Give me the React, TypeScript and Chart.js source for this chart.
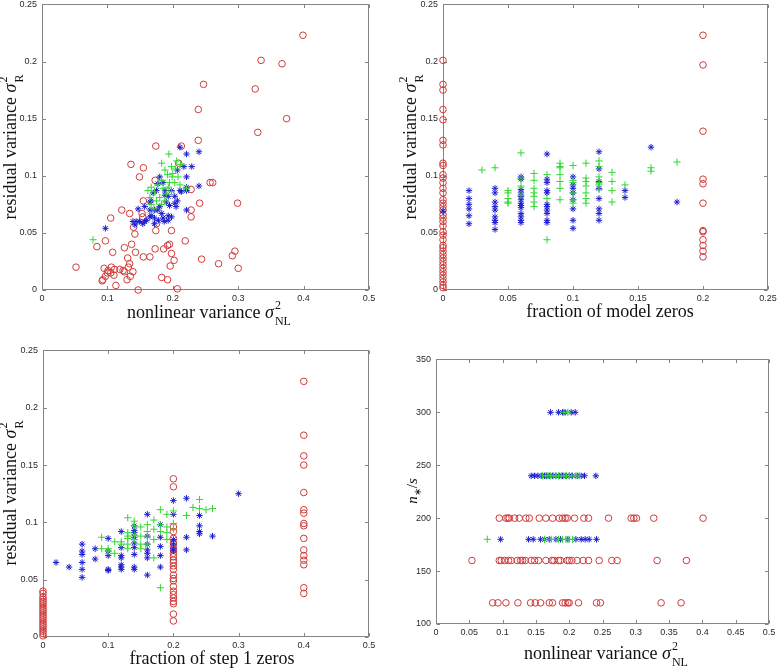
import React, { useEffect, useRef } from "react";
import { Chart, registerables } from "chart.js";
Chart.register(...registerables);

type Pt = [number, number];
type Col = [number, number[]];

// ---------- Panel 1: residual variance vs nonlinear variance ----------
const p1Red: Pt[] = [
  [0.399, 0.223], [0.335, 0.201], [0.367, 0.198], [0.247, 0.18], [0.326, 0.176], [0.239, 0.158],
  [0.374, 0.15], [0.33, 0.138], [0.239, 0.131], [0.174, 0.126], [0.213, 0.126], [0.136, 0.11],
  [0.155, 0.107], [0.149, 0.099], [0.209, 0.111], [0.173, 0.096], [0.257, 0.094], [0.261, 0.094],
  [0.228, 0.088], [0.299, 0.076], [0.241, 0.076], [0.155, 0.078], [0.122, 0.07], [0.134, 0.067],
  [0.153, 0.067], [0.228, 0.07], [0.228, 0.064], [0.105, 0.063], [0.154, 0.064], [0.14, 0.055],
  [0.142, 0.049], [0.174, 0.052], [0.175, 0.058], [0.198, 0.052], [0.097, 0.043], [0.219, 0.043],
  [0.084, 0.038], [0.108, 0.033], [0.126, 0.037], [0.137, 0.04], [0.143, 0.033], [0.173, 0.036],
  [0.186, 0.036], [0.192, 0.039], [0.195, 0.04], [0.198, 0.032], [0.202, 0.026], [0.155, 0.029],
  [0.165, 0.029], [0.131, 0.028], [0.134, 0.023], [0.132, 0.02], [0.244, 0.027], [0.27, 0.023],
  [0.291, 0.03], [0.295, 0.034], [0.3, 0.019], [0.196, 0.021], [0.052, 0.02], [0.095, 0.019],
  [0.106, 0.02], [0.111, 0.018], [0.119, 0.018], [0.124, 0.017], [0.126, 0.016], [0.1, 0.015],
  [0.105, 0.015], [0.097, 0.012], [0.11, 0.013], [0.093, 0.009], [0.139, 0.016], [0.135, 0.012],
  [0.13, 0.009], [0.113, 0.004], [0.183, 0.011], [0.192, 0.009], [0.207, 0.001], [0.147, 0.0],
  [0.101, 0.017], [0.092, 0.008],
];
const p1Blue: Pt[] = [
  [0.097, 0.054], [0.211, 0.125], [0.221, 0.119], [0.24, 0.121], [0.229, 0.108], [0.217, 0.108],
  [0.24, 0.091], [0.221, 0.099], [0.221, 0.09], [0.207, 0.105], [0.18, 0.099], [0.185, 0.094],
  [0.175, 0.087], [0.188, 0.087], [0.198, 0.087], [0.211, 0.087], [0.213, 0.086], [0.221, 0.087],
  [0.167, 0.078], [0.165, 0.077], [0.157, 0.073], [0.147, 0.071], [0.165, 0.07], [0.172, 0.07],
  [0.177, 0.07], [0.19, 0.077], [0.195, 0.074], [0.203, 0.076], [0.205, 0.073], [0.207, 0.078],
  [0.221, 0.07], [0.183, 0.067], [0.193, 0.065], [0.198, 0.064], [0.165, 0.064], [0.167, 0.065],
  [0.139, 0.06], [0.144, 0.06], [0.149, 0.06], [0.157, 0.06], [0.16, 0.061], [0.172, 0.063],
  [0.172, 0.058], [0.178, 0.061], [0.185, 0.063], [0.142, 0.057], [0.154, 0.058], [0.193, 0.061],
  [0.187, 0.06], [0.18, 0.073], [0.188, 0.083], [0.17, 0.085], [0.177, 0.093], [0.193, 0.082],
  [0.203, 0.082],
];
const p1Green: Pt[] = [
  [0.078, 0.044], [0.194, 0.119], [0.183, 0.111], [0.206, 0.113], [0.212, 0.11], [0.198, 0.108],
  [0.188, 0.105], [0.204, 0.106], [0.192, 0.101], [0.199, 0.099], [0.208, 0.099], [0.183, 0.096],
  [0.195, 0.094], [0.203, 0.094], [0.177, 0.092], [0.167, 0.09], [0.162, 0.087], [0.172, 0.086],
  [0.185, 0.089], [0.19, 0.084], [0.18, 0.081], [0.198, 0.086], [0.175, 0.078], [0.167, 0.075],
  [0.183, 0.075], [0.171, 0.071], [0.188, 0.078], [0.211, 0.092], [0.221, 0.089], [0.165, 0.081],
  [0.193, 0.09], [0.2, 0.102],
];

// ---------- Panel 2: residual variance vs fraction of model zeros ----------
const p2RedCols: Col[] = [
  [0, [0.201, 0.18, 0.175, 0.158, 0.149, 0.131, 0.127, 0.111, 0.109, 0.101, 0.098, 0.094, 0.089, 0.085,
    0.079, 0.076, 0.073, 0.07, 0.066, 0.063, 0.06, 0.056, 0.051, 0.048, 0.044, 0.039, 0.037, 0.034, 0.031,
    0.028, 0.025, 0.022, 0.019, 0.016, 0.013, 0.01, 0.007, 0.004, 0.002]],
  [0.2, [0.223, 0.197, 0.139, 0.097, 0.093, 0.076, 0.052, 0.051, 0.044, 0.039, 0.034, 0.029]],
];
const p2BlueCols: Col[] = [
  [0, [0.069]],
  [0.02, [0.087, 0.08, 0.075, 0.071, 0.065, 0.058]],
  [0.04, [0.089, 0.085, 0.077, 0.073, 0.07, 0.064, 0.061, 0.059, 0.053]],
  [0.06, [0.099, 0.097, 0.088, 0.085, 0.082, 0.079, 0.076, 0.074, 0.072, 0.067, 0.064, 0.061, 0.059]],
  [0.08, [0.119, 0.097, 0.094, 0.087, 0.085, 0.075, 0.073, 0.07, 0.067, 0.061, 0.059]],
  [0.1, [0.099, 0.092, 0.089, 0.085, 0.079, 0.071, 0.061, 0.054]],
  [0.12, [0.121, 0.106, 0.095, 0.089, 0.08, 0.071, 0.067, 0.061]],
  [0.14, [0.087, 0.081]],
  [0.16, [0.125]],
  [0.18, [0.077]],
];
const p2GreenCols: Col[] = [
  [0.03, [0.105]],
  [0.04, [0.107]],
  [0.05, [0.087, 0.085, 0.08, 0.077, 0.076]],
  [0.06, [0.12, 0.098, 0.091, 0.083]],
  [0.07, [0.102, 0.096, 0.089, 0.085, 0.082, 0.077, 0.073]],
  [0.08, [0.101, 0.08, 0.044]],
  [0.09, [0.111, 0.108, 0.107, 0.101, 0.095, 0.089, 0.079]],
  [0.1, [0.109, 0.096, 0.094, 0.085, 0.079, 0.076]],
  [0.11, [0.111, 0.098, 0.095, 0.091, 0.085, 0.08, 0.076]],
  [0.12, [0.113, 0.108, 0.099, 0.094, 0.092, 0.088]],
  [0.13, [0.103, 0.095, 0.087, 0.077]],
  [0.14, [0.092]],
  [0.16, [0.107, 0.104]],
  [0.18, [0.112]],
];

// ---------- Panel 3: residual variance vs fraction of step 1 zeros ----------
const p3RedCols: Col[] = [
  [0, [0.04, 0.038, 0.035, 0.033, 0.031, 0.029, 0.027, 0.025, 0.023, 0.021, 0.019, 0.017, 0.015, 0.013,
    0.011, 0.009, 0.007, 0.005, 0.003, 0.001]],
  [0.2, [0.138, 0.131, 0.096, 0.092, 0.086, 0.082, 0.079, 0.076, 0.073, 0.07, 0.067, 0.065, 0.062, 0.059,
    0.054, 0.051, 0.049, 0.044, 0.04, 0.037, 0.034, 0.031, 0.029, 0.02, 0.014]],
  [0.4, [0.223, 0.176, 0.158, 0.15, 0.126, 0.111, 0.108, 0.099, 0.097, 0.086, 0.076, 0.071, 0.067, 0.063,
    0.043, 0.038]],
];
const p3BlueCols: Col[] = [
  [0.02, [0.065]],
  [0.04, [0.061]],
  [0.06, [0.081, 0.075, 0.072, 0.065, 0.059, 0.052]],
  [0.08, [0.077, 0.068]],
  [0.1, [0.086, 0.075, 0.071, 0.059, 0.058]],
  [0.12, [0.092, 0.078, 0.071, 0.069, 0.063, 0.061, 0.059]],
  [0.14, [0.097, 0.093, 0.091, 0.087, 0.082, 0.078, 0.072, 0.061, 0.059]],
  [0.16, [0.107, 0.088, 0.081, 0.076, 0.073, 0.069, 0.054]],
  [0.18, [0.098, 0.087, 0.079, 0.071, 0.061]],
  [0.2, [0.119, 0.107, 0.085, 0.081, 0.077, 0.075]],
  [0.22, [0.121, 0.087, 0.076]],
  [0.24, [0.106, 0.097, 0.092, 0.09]],
  [0.26, [0.088]],
  [0.3, [0.125]],
];
const p3GreenCols: Col[] = [
  [0.09, [0.087, 0.077]],
  [0.1, [0.077, 0.075]],
  [0.11, [0.083, 0.073]],
  [0.12, [0.083, 0.081]],
  [0.13, [0.104, 0.091, 0.088, 0.086, 0.081, 0.077]],
  [0.14, [0.101, 0.097, 0.089, 0.085]],
  [0.15, [0.096, 0.088, 0.081, 0.077]],
  [0.16, [0.098, 0.092, 0.087, 0.081]],
  [0.17, [0.102, 0.094, 0.085, 0.069]],
  [0.18, [0.111, 0.098, 0.092, 0.043]],
  [0.19, [0.107, 0.096, 0.091, 0.085]],
  [0.2, [0.11, 0.099, 0.094]],
  [0.22, [0.106]],
  [0.23, [0.113]],
  [0.24, [0.12, 0.112]],
  [0.25, [0.111]],
  [0.26, [0.112]],
];

// ---------- Panel 4: n*/s vs nonlinear variance (rows: [n, x values]) ----------
const p4RedRows: Col[] = [
  [200, [0.095, 0.105, 0.108, 0.11, 0.118, 0.125, 0.135, 0.14, 0.155, 0.165, 0.175, 0.185, 0.19, 0.194,
    0.197, 0.208, 0.222, 0.229, 0.259, 0.293, 0.297, 0.301, 0.327, 0.401]],
  [160, [0.054, 0.095, 0.098, 0.103, 0.109, 0.113, 0.122, 0.127, 0.13, 0.134, 0.143, 0.148, 0.154, 0.165,
    0.174, 0.177, 0.184, 0.187, 0.197, 0.2, 0.204, 0.212, 0.221, 0.229, 0.245, 0.264, 0.272, 0.332, 0.376]],
  [120, [0.085, 0.093, 0.105, 0.123, 0.142, 0.149, 0.157, 0.17, 0.175, 0.19, 0.194, 0.198, 0.2, 0.214,
    0.241, 0.247, 0.338, 0.368]],
];
const p4BlueRows: Col[] = [
  [300, [0.172, 0.184, 0.19, 0.194, 0.203, 0.209]],
  [240, [0.143, 0.148, 0.153, 0.158, 0.163, 0.166, 0.17, 0.175, 0.18, 0.185, 0.19, 0.195, 0.2, 0.205,
    0.212, 0.218, 0.223, 0.24]],
  [180, [0.097, 0.139, 0.146, 0.157, 0.163, 0.17, 0.18, 0.187, 0.198, 0.21, 0.218, 0.224, 0.23, 0.241]],
];
const p4GreenRows: Col[] = [
  [300, [0.192, 0.198]],
  [240, [0.16, 0.165, 0.168, 0.172, 0.176, 0.18, 0.184, 0.188, 0.192, 0.196, 0.2, 0.204, 0.21, 0.215]],
  [180, [0.077, 0.163, 0.173, 0.184, 0.19, 0.195, 0.2, 0.205]],
];

// ---------- Tick labels ----------
const ticksResidual = [0, 0.05, 0.1, 0.15, 0.2, 0.25];
const ticksNonlinear = [0, 0.1, 0.2, 0.3, 0.4, 0.5];
const ticksModelZeros = [0, 0.05, 0.1, 0.15, 0.2, 0.25];
const ticksStepZeros = [0, 0.1, 0.2, 0.3, 0.4, 0.5];
const ticksNonlinearFine = [0, 0.05, 0.1, 0.15, 0.2, 0.25, 0.3, 0.35, 0.4, 0.45, 0.5];
const ticksN = [100, 150, 200, 250, 300, 350];

// ---------- Styling ----------
const RED = "#cf3a3a";
const BLUE = "#1c1cd0";
const GREEN = "#2fd82f";
const AXIS = "#858585";
const TICK_LEN = 3.5;
const PAD_L = 45, PAD_T = 10, PAD_R = 16, PAD_B = 25;

const fromPts = (p: Pt[]) => p.map(([x, y]) => ({ x, y }));
const fromCols = (c: Col[]) => c.flatMap(([x, ys]) => ys.map((y) => ({ x, y })));
const fromRows = (r: Col[]) => r.flatMap(([y, xs]) => xs.map((x) => ({ x, y })));

function sets(red: any[], blue: any[], green: any[]) {
  return [
    { label: "green", data: green, pointStyle: "cross", pointRadius: 3.6, borderColor: GREEN, backgroundColor: GREEN, pointBorderWidth: 1, showLine: false, clip: false },
    { label: "blue", data: blue, pointStyle: "star", pointRadius: 3.2, borderColor: BLUE, backgroundColor: BLUE, pointBorderWidth: 1, showLine: false, clip: false },
    { label: "red", data: red, pointStyle: "circle", pointRadius: 3.3, borderColor: RED, backgroundColor: "rgba(0,0,0,0)", pointBorderWidth: 1, showLine: false, clip: false },
  ];
}

const framePlugin = {
  id: "matlabFrame",
  beforeDatasetsDraw(chart: any) {
    const { ctx, chartArea: a, scales } = chart;
    const L = Math.round(a.left) + 0.5, R = Math.round(a.right) - 0.5;
    const T = Math.round(a.top) + 0.5, B = Math.round(a.bottom) - 0.5;
    ctx.save();
    ctx.strokeStyle = AXIS;
    ctx.lineWidth = 1;
    ctx.strokeRect(L, T, R - L, B - T);
    ctx.beginPath();
    for (const t of scales.x.ticks) {
      const px = Math.round(scales.x.getPixelForValue(t.value)) + 0.5;
      ctx.moveTo(px, B); ctx.lineTo(px, B - TICK_LEN);
      ctx.moveTo(px, T); ctx.lineTo(px, T + TICK_LEN);
    }
    for (const t of scales.y.ticks) {
      const py = Math.round(scales.y.getPixelForValue(t.value)) + 0.5;
      ctx.moveTo(L, py); ctx.lineTo(L + TICK_LEN, py);
      ctx.moveTo(R, py); ctx.lineTo(R - TICK_LEN, py);
    }
    ctx.stroke();
    ctx.restore();
  },
};

function axis(min: number, max: number, ticks: number[], isX: boolean) {
  return {
    type: "linear",
    min,
    max,
    afterBuildTicks: (s: any) => { s.ticks = ticks.map((v) => ({ value: v })); },
    afterFit: (s: any) => { if (isX) s.height = PAD_B; else s.width = PAD_L; },
    grid: { display: false, drawTicks: false },
    border: { display: false },
    ticks: {
      autoSkip: false,
      maxRotation: 0,
      padding: isX ? 3 : 5,
      color: "#2a2a2a",
      font: { family: "'Liberation Sans', Arial, sans-serif", size: 9 },
      callback: (v: any) => String(v),
    },
  };
}

type Box = { left: number; top: number; right: number; bottom: number };

function Panel({ box, datasets, x, y }: { box: Box; datasets: any[]; x: [number, number, number[]]; y: [number, number, number[]] }) {
  const ref = useRef<HTMLCanvasElement>(null);
  const w = box.right - box.left + PAD_L + PAD_R;
  const h = box.bottom - box.top + PAD_T + PAD_B;
  useEffect(() => {
    const chart = new Chart(ref.current as HTMLCanvasElement, {
      type: "scatter",
      data: { datasets },
      options: {
        responsive: false,
        animation: false,
        devicePixelRatio: 1,
        layout: { padding: { left: 0, top: PAD_T, right: PAD_R, bottom: 0 } },
        plugins: { legend: { display: false }, tooltip: { enabled: false } },
        scales: { x: axis(x[0], x[1], x[2], true), y: axis(y[0], y[1], y[2], false) },
      } as any,
      plugins: [framePlugin],
    });
    return () => chart.destroy();
  }, []);
  return (
    <canvas
      ref={ref}
      width={w}
      height={h}
      style={{ position: "absolute", left: box.left - PAD_L, top: box.top - PAD_T, width: w, height: h }}
    />
  );
}

const serif = "'Liberation Serif', 'Times New Roman', serif";

function SupSub({ sup, sub }: { sup: string; sub: string }) {
  return (
    <span style={{ display: "inline-flex", flexDirection: "column", verticalAlign: "middle", fontSize: 12, lineHeight: "12px", marginLeft: 1 }}>
      <span style={{ position: "relative", top: -3 }}>{sup}</span>
      <span style={{ position: "relative", top: 1 }}>{sub}</span>
    </span>
  );
}

function Label({ x, y, rotate, children, size = 18 }: { x: number; y: number; rotate?: boolean; children: any; size?: number }) {
  return (
    <div
      style={{
        position: "absolute",
        left: x,
        top: y,
        whiteSpace: "nowrap",
        fontFamily: serif,
        fontSize: size,
        lineHeight: "20px",
        color: "#111",
        transform: `translate(-50%, -50%)${rotate ? " rotate(-90deg)" : ""}`,
      }}
    >
      {children}
    </div>
  );
}

const resid = (
  <>residual variance <i>σ</i><SupSub sup="2" sub="R" /></>
);
const nonlin = (
  <>nonlinear variance <i>σ</i><SupSub sup="2" sub="NL" /></>
);

export default function App() {
  const b1: Box = { left: 42, top: 4, right: 369, bottom: 290 };
  const b2: Box = { left: 443, top: 4, right: 768, bottom: 290 };
  const b3: Box = { left: 43, top: 350, right: 369, bottom: 637 };
  const b4: Box = { left: 436, top: 359, right: 769, bottom: 624 };
  return (
    <div style={{ position: "absolute", left: 0, top: 0, width: 777, height: 668, background: "#fff", overflow: "hidden" }}>
      <Panel box={b1} datasets={sets(fromPts(p1Red), fromPts(p1Blue), fromPts(p1Green))} x={[0, 0.5, ticksNonlinear]} y={[0, 0.25, ticksResidual]} />
      <Panel box={b2} datasets={sets(fromCols(p2RedCols), fromCols(p2BlueCols), fromCols(p2GreenCols))} x={[0, 0.25, ticksModelZeros]} y={[0, 0.25, ticksResidual]} />
      <Panel box={b3} datasets={sets(fromCols(p3RedCols), fromCols(p3BlueCols), fromCols(p3GreenCols))} x={[0, 0.5, ticksStepZeros]} y={[0, 0.25, ticksResidual]} />
      <Panel box={b4} datasets={sets(fromRows(p4RedRows), fromRows(p4BlueRows), fromRows(p4GreenRows))} x={[0, 0.5, ticksNonlinearFine]} y={[100, 350, ticksN]} />

      <Label x={209} y={314}>{nonlin}</Label>
      <Label x={610} y={311}>fraction of model zeros</Label>
      <Label x={212} y={658}>fraction of step 1 zeros</Label>
      <Label x={606} y={655}>{nonlin}</Label>

      <Label x={12} y={147} rotate>{resid}</Label>
      <Label x={412} y={147} rotate>{resid}</Label>
      <Label x={12} y={493} rotate>{resid}</Label>
      <Label x={415} y={491} rotate size={15}>
        <i>n</i><sub style={{ fontSize: 10 }}>∗</sub>/<i>s</i>
      </Label>
    </div>
  );
}
